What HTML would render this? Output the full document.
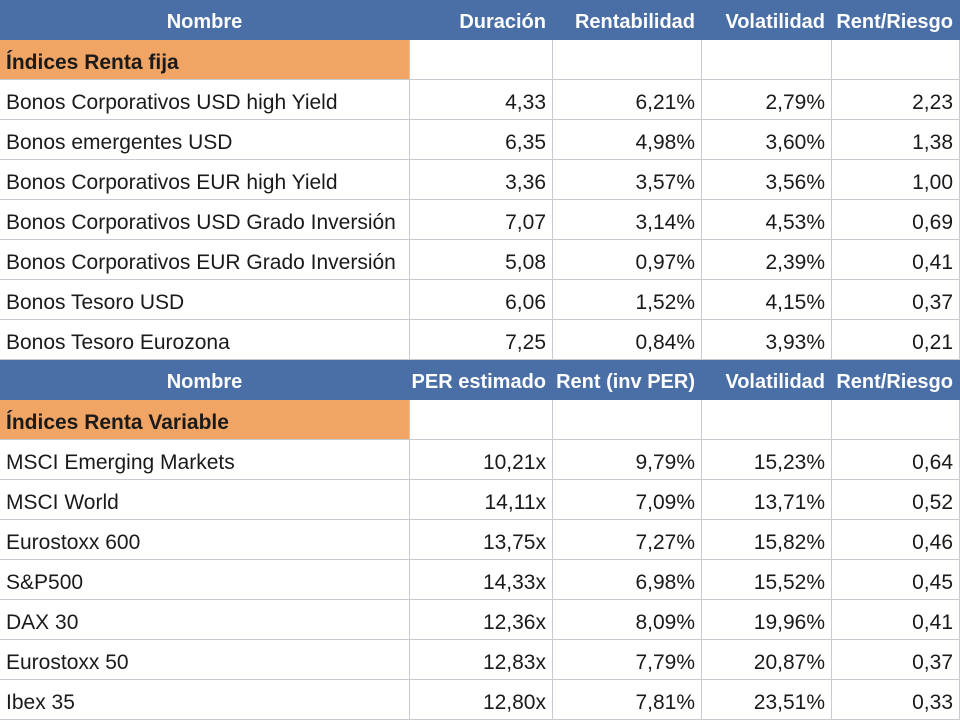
<!DOCTYPE html>
<html><head><meta charset="utf-8"><style>
body{margin:0;width:960px;height:720px;overflow:hidden;background:#fff;font-family:"Liberation Sans Narrow","Liberation Sans",sans-serif;}
#t{position:relative;width:960px;height:720px;}
.c{position:absolute;box-sizing:border-box;height:40px;line-height:45px;font-size:21px;color:#1a1a1a;white-space:nowrap;overflow:hidden;border-right:1px solid #c9c9d2;border-bottom:1px solid #c9c9d2;}
.h{background:#4a6ea6;color:#fff;text-align:center;border-color:#4a6ea6;font-weight:bold;line-height:44px;font-size:20px;}
.hh{text-align:right;padding-right:6px;}
.o{background:#f1a564;font-weight:bold;padding-left:6px;}
.l{padding-left:6px;}
.r{text-align:right;padding-right:6px;}
</style></head><body>
<div id="t"></div>
<script>
const colX=[0,410,553,702,832,960];
const head1=["Nombre","Duración","Rentabilidad","Volatilidad","Rent/Riesgo"];
const cat1="Índices Renta fija";
const rows1=[
["Bonos Corporativos USD high Yield","4,33","6,21%","2,79%","2,23"],
["Bonos emergentes USD","6,35","4,98%","3,60%","1,38"],
["Bonos Corporativos EUR high Yield","3,36","3,57%","3,56%","1,00"],
["Bonos Corporativos USD Grado Inversión","7,07","3,14%","4,53%","0,69"],
["Bonos Corporativos EUR Grado Inversión","5,08","0,97%","2,39%","0,41"],
["Bonos Tesoro USD","6,06","1,52%","4,15%","0,37"],
["Bonos Tesoro Eurozona","7,25","0,84%","3,93%","0,21"]];
const head2=["Nombre","PER estimado","Rent (inv PER)","Volatilidad","Rent/Riesgo"];
const cat2="Índices Renta Variable";
const rows2=[
["MSCI Emerging Markets","10,21x","9,79%","15,23%","0,64"],
["MSCI World","14,11x","7,09%","13,71%","0,52"],
["Eurostoxx 600","13,75x","7,27%","15,82%","0,46"],
["S&P500","14,33x","6,98%","15,52%","0,45"],
["DAX 30","12,36x","8,09%","19,96%","0,41"],
["Eurostoxx 50","12,83x","7,79%","20,87%","0,37"],
["Ibex 35","12,80x","7,81%","23,51%","0,33"]];
const t=document.getElementById('t');
function cell(y,i,text,cls,name){
  const d=document.createElement('div');
  d.className='c '+cls;
  d.style.left=colX[i]+'px';d.style.top=y+'px';d.style.width=(colX[i+1]-colX[i])+'px';
  d.textContent=text;
  
  
  t.appendChild(d);
}
let y=0;
function section(head,cat,rows,p){
  head.forEach((h,i)=>cell(y,i,h,i==0?'h':'h hh',p+'-header-'+i));y+=40;
  cell(y,0,cat,'o',p+'-category');for(let i=1;i<5;i++)cell(y,i,'','',p+'-category-empty');y+=40;
  rows.forEach((r,k)=>{r.forEach((v,i)=>cell(y,i,v,i==0?'l':'r',p+'-row-'+k+'-col-'+i));y+=40;});
}
section(head1,cat1,rows1,'renta-fija');
section(head2,cat2,rows2,'renta-variable');
</script>
</body></html>
